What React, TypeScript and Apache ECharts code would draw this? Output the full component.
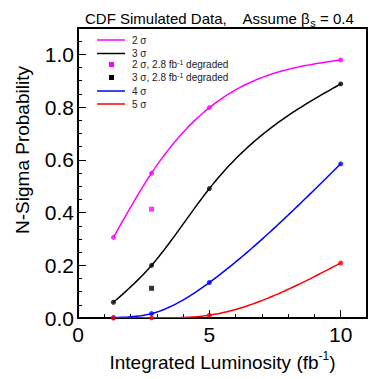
import React, { useEffect, useRef } from "react";
import * as echarts from "echarts";

const lumi = [1.35, 2.8, 5, 10];
const sigma2 = [0.306, 0.55, 0.798, 0.979];
const sigma3 = [0.06, 0.2, 0.491, 0.888];
const sigma4 = [0.002, 0.017, 0.135, 0.585];
const sigma5 = [0.0, 0.001, 0.011, 0.209];
const degradedLumi = [2.8];
const degraded2 = [0.413];
const degraded3 = [0.113];

const FONT = "'Liberation Sans', Arial, Helvetica, sans-serif";

const pairs = (xs: number[], ys: number[]) => xs.map((x, i) => [x, ys[i]]);

// natural cubic spline through the measured points (smooth fit curve of the original)
const naturalSpline = (xs: number[], ys: number[]) => {
  const n = xs.length;
  const h: number[] = [];
  for (let i = 0; i < n - 1; i++) h.push(xs[i + 1] - xs[i]);
  const M = new Array(n).fill(0);
  const a: number[] = [], b: number[] = [], c: number[] = [], d: number[] = [];
  for (let i = 1; i < n - 1; i++) {
    a.push(h[i - 1]);
    b.push(2 * (h[i - 1] + h[i]));
    c.push(h[i]);
    d.push(6 * ((ys[i + 1] - ys[i]) / h[i] - (ys[i] - ys[i - 1]) / h[i - 1]));
  }
  const m = b.length;
  for (let i = 1; i < m; i++) {
    const w = a[i] / b[i - 1];
    b[i] -= w * c[i - 1];
    d[i] -= w * d[i - 1];
  }
  for (let i = m - 1; i >= 0; i--) {
    M[i + 1] = (d[i] - (i < m - 1 ? c[i] * M[i + 2] : 0)) / b[i];
  }
  return (x: number) => {
    let k = 0;
    while (k < n - 2 && x > xs[k + 1]) k++;
    const hk = h[k];
    const A = (xs[k + 1] - x) / hk;
    const B = (x - xs[k]) / hk;
    return (
      A * ys[k] +
      B * ys[k + 1] +
      ((A * A * A - A) * M[k] + (B * B * B - B) * M[k + 1]) * (hk * hk) / 6
    );
  };
};

export default function App() {
  const ref = useRef<HTMLDivElement>(null);
  useEffect(() => {
    if (!ref.current) return;
    const chart = echarts.init(ref.current, undefined, { renderer: "svg" });
    const curveSeries = (name: string, ys: number[], color: string) => {
      const f = naturalSpline(lumi, ys);
      return {
        name: name + " fit",
        type: "custom",
        xAxisIndex: 0,
        yAxisIndex: 0,
        data: pairs(lumi, ys),
        clip: true,
        z: 2,
        renderItem: (params: any, api: any) => {
          if (params.dataIndex !== 0) return null;
          const x0 = lumi[0];
          const x1 = lumi[lumi.length - 1];
          const n = 90;
          const pts: number[][] = [];
          for (let k = 0; k <= n; k++) {
            const x = x0 + ((x1 - x0) * k) / n;
            pts.push(api.coord([x, f(x)]));
          }
          return {
            type: "polyline",
            shape: { points: pts },
            style: { stroke: color, lineWidth: 1.5, fill: "none" },
          };
        },
      };
    };
    const markerSeries = (name: string, ys: number[], color: string) => ({
      name,
      type: "scatter",
      xAxisIndex: 0,
      yAxisIndex: 0,
      data: pairs(lumi, ys),
      symbol: "circle",
      symbolSize: 5,
      itemStyle: { color },
      z: 3,
    });
    const legendRows = [
      { label: "2 σ", color: "#ff00ff", kind: "line", y: 40 },
      { label: "3 σ", color: "#000000", kind: "line", y: 53.5 },
      { label: "2 σ, 2.8 fb{sup|-1} degraded", color: "#ff00ff", kind: "rect", y: 64.5 },
      { label: "3 σ, 2.8 fb{sup|-1} degraded", color: "#000000", kind: "rect", y: 77.5 },
      { label: "4 σ", color: "#0000ff", kind: "line", y: 91 },
      { label: "5 σ", color: "#ff0000", kind: "line", y: 104 },
    ];
    const legendGraphics: any[] = [];
    legendRows.forEach((r) => {
      if (r.kind === "line") {
        legendGraphics.push({
          type: "line",
          shape: { x1: 97, y1: r.y, x2: 125, y2: r.y },
          style: { stroke: r.color, lineWidth: 1.5 },
        });
      } else {
        legendGraphics.push({
          type: "rect",
          shape: { x: 109, y: r.y - 2.5, width: 5, height: 5 },
          style: { fill: r.color },
        });
      }
      legendGraphics.push({
        type: "text",
        x: 132,
        y: r.y,
        style: {
          text: r.label,
          fontFamily: FONT,
          fontSize: 10,
          fill: "#222",
          verticalAlign: "middle",
          rich: {
            sup: { fontSize: 7, verticalAlign: "top", fontFamily: FONT, fill: "#222", padding: [0, 0, 4, 0] },
          },
        },
      });
    });

    chart.setOption({
      animation: false,
      title: {
        text: "CDF Simulated Data,    Assume β{sub|s} = 0.4",
        left: 80,
        top: 3,
        textStyle: {
          fontFamily: FONT,
          fontSize: 15,
          fontWeight: "normal",
          color: "#000",
          lineHeight: 20,
          rich: {
            sub: { fontSize: 11, fontFamily: FONT, color: "#000", verticalAlign: "bottom", padding: [8, 0, 0, 0] },
          },
        },
      },
      grid: {
        left: 78,
        top: 28,
        width: 294,
        height: 298,
        show: true,
        borderColor: "#000",
        borderWidth: 2,
        backgroundColor: "transparent",
      },
      xAxis: [
        {
          type: "value",
          gridIndex: 0,
          position: "bottom",
          min: 0,
          max: 11,
          interval: 5,
          axisLine: { lineStyle: { color: "#000", width: 2 } },
          axisTick: { inside: true, length: 8, lineStyle: { color: "#000", width: 1 } },
          splitLine: { show: false },
          axisLabel: {
            fontFamily: FONT,
            fontSize: 21,
            color: "#000",
            margin: 6,
            formatter: (v: number) => (Math.abs(v % 5) < 1e-9 ? String(v) : ""),
          },
          name: "Integrated Luminosity (fb{sup|-1})",
          nameLocation: "middle",
          nameGap: 25,
          nameTextStyle: {
            fontFamily: FONT,
            fontSize: 19,
            color: "#000",
            lineHeight: 24,
            rich: {
              sup: { fontSize: 12, fontFamily: FONT, color: "#000", verticalAlign: "top", padding: [0, 0, 10, 0] },
            },
          },
        },
        {
          type: "value",
          gridIndex: 0,
          position: "bottom",
          min: 0,
          max: 11,
          interval: 1,
          axisLine: { show: false },
          axisTick: { inside: true, length: 4, lineStyle: { color: "#000", width: 1 } },
          axisLabel: { show: false },
          splitLine: { show: false },
        },
      ],
      yAxis: [
        {
          type: "value",
          gridIndex: 0,
          min: 0,
          max: 1.1,
          interval: 0.2,
          axisLine: { show: true, lineStyle: { color: "#000", width: 2 } },
          axisTick: { show: true, inside: true, length: 8, lineStyle: { color: "#000", width: 1 } },
          splitLine: { show: false },
          axisLabel: {
            fontFamily: FONT,
            fontSize: 21,
            color: "#000",
            margin: 4,
            formatter: (v: number) => (v > 1.05 ? "" : v.toFixed(1)),
          },
        },
        {
          type: "value",
          gridIndex: 0,
          position: "left",
          min: 0,
          max: 1.1,
          interval: 0.05,
          axisLine: { show: false },
          axisTick: { show: true, inside: true, length: 4, lineStyle: { color: "#000", width: 1 } },
          axisLabel: { show: false },
          splitLine: { show: false },
        },
      ],
      series: [
        curveSeries("2 σ", sigma2, "#ff00ff"),
        curveSeries("3 σ", sigma3, "#000000"),
        curveSeries("4 σ", sigma4, "#0000ff"),
        curveSeries("5 σ", sigma5, "#ff0000"),
        markerSeries("2 σ", sigma2, "#ff00ff"),
        markerSeries("3 σ", sigma3, "#000000"),
        markerSeries("4 σ", sigma4, "#0000ff"),
        markerSeries("5 σ", sigma5, "#ff0000"),
        {
          name: "2 σ, 2.8 fb-1 degraded",
          type: "scatter",
          data: pairs(degradedLumi, degraded2),
          symbol: "rect",
          symbolSize: 5,
          itemStyle: { color: "#ff00ff" },
        },
        {
          name: "3 σ, 2.8 fb-1 degraded",
          type: "scatter",
          data: pairs(degradedLumi, degraded3),
          symbol: "rect",
          symbolSize: 5,
          itemStyle: { color: "#000000" },
        },
      ],
      graphic: [
        {
          type: "text",
          x: 22,
          y: 150,
          rotation: Math.PI / 2,
          style: {
            text: "N-Sigma Probability",
            fontFamily: FONT,
            fontSize: 19,
            fill: "#000",
            align: "center",
            verticalAlign: "middle",
          },
        },
        ...legendGraphics,
      ],
    });
    return () => chart.dispose();
  }, []);
  return (
    <div
      ref={ref}
      style={{ position: "fixed", left: 0, top: 0, width: 370, height: 379, background: "#fff" }}
    />
  );
}
